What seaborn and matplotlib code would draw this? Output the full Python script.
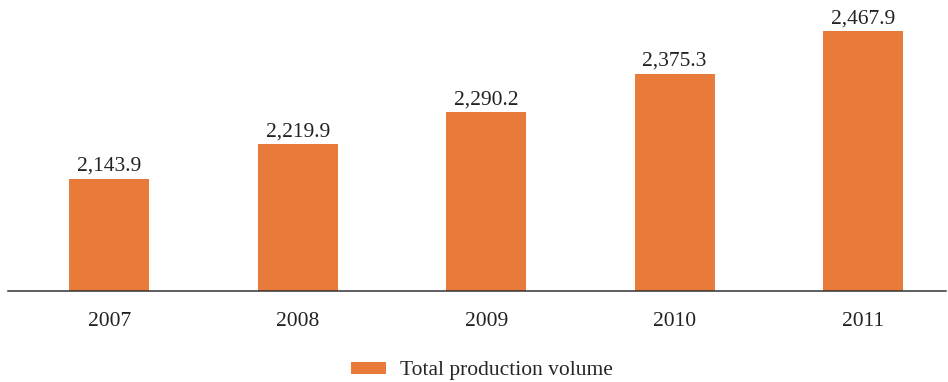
import matplotlib
matplotlib.use("Agg")
import matplotlib.pyplot as plt
import seaborn as sns
import pandas as pd

years = ["2007", "2008", "2009", "2010", "2011"]
production = [2143.9, 2219.9, 2290.2, 2375.3, 2467.9]
series_name = "Total production volume"
bar_color = "#E97B3A"

sns.set_theme(style="white")
plt.rcParams["font.family"] = ["Liberation Serif", "DejaVu Serif"]

df = pd.DataFrame({"year": years, "value": production})

fig = plt.figure(figsize=(9.48, 3.82), dpi=100)
ax = fig.add_axes([8 / 948, (382 - 291) / 382, (946 - 8) / 948, (291 - 8) / 382])

sns.barplot(data=df, x="year", y="value", color=bar_color, saturation=1,
            width=0.424, ax=ax, label=series_name, linewidth=0)

ymin = 1897
ax.set_ylim(ymin, ymin + 283 / 0.4546)
ax.set_xlim(-0.537, 4.44)

for i, v in enumerate(production):
    ax.text(i, v + 6, f"{v:,.1f}", ha="center", va="bottom",
            fontsize=15.5, color="#222222")

for side in ["left", "right", "top"]:
    ax.spines[side].set_visible(False)
ax.spines["bottom"].set_color("#333333")
ax.spines["bottom"].set_linewidth(1.1)
ax.set_yticks([])
ax.tick_params(axis="x", length=0, pad=15, labelsize=15.5, labelcolor="#222222")
ax.set_xlabel("")
ax.set_ylabel("")

handles, labels = ax.get_legend_handles_labels()
if ax.get_legend() is not None:
    ax.get_legend().remove()
fig.legend(handles, labels, loc="center", bbox_to_anchor=(482 / 948, 1 - 371 / 382),
           frameon=False, fontsize=15.5, handlelength=1.6, handleheight=0.45,
           handletextpad=0.65)

fig.savefig("out.png", dpi=100, facecolor="white")
